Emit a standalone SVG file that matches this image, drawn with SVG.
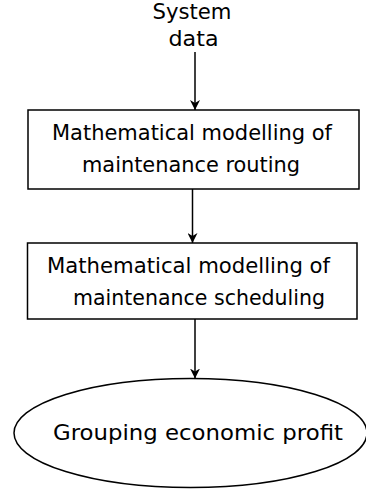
<svg xmlns="http://www.w3.org/2000/svg" width="366" height="492" viewBox="0 0 366 492">
<defs>
<marker id="ah" viewBox="0 0 10 10" refX="10" refY="5" markerWidth="10" markerHeight="10" markerUnits="userSpaceOnUse" orient="auto">
<path d="M0,0 L10,5 L0,10 L3,5 Z" fill="#000"/>
</marker>
</defs>
<style>
.t{font-family:"DejaVu Sans",Verdana,sans-serif;font-size:22px;fill:#000;text-anchor:middle}
.s{fill:#fff;stroke:#000;stroke-width:1.5}
.c{stroke:#000;stroke-width:1.5;fill:none;marker-end:url(#ah)}
</style>
<rect width="366" height="492" fill="#fff"/>
<g id="input">
<text class="t" x="192" y="19" textLength="79" lengthAdjust="spacingAndGlyphs">System</text>
<text class="t" x="193.5" y="46" textLength="50" lengthAdjust="spacingAndGlyphs">data</text>
</g>
<g id="routing">
<rect class="s" x="28" y="110" width="331" height="79"/>
<text class="t" x="192" y="139.5" textLength="280" lengthAdjust="spacingAndGlyphs">Mathematical modelling of</text>
<text class="t" x="191" y="172" textLength="218" lengthAdjust="spacingAndGlyphs">maintenance routing</text>
</g>
<g id="scheduling">
<rect class="s" x="27.5" y="243" width="329.5" height="76"/>
<text class="t" x="188.5" y="272.5" textLength="283" lengthAdjust="spacingAndGlyphs">Mathematical modelling of</text>
<text class="t" x="199" y="305" textLength="252" lengthAdjust="spacingAndGlyphs">maintenance scheduling</text>
</g>
<g id="profit">
<ellipse class="s" cx="190.5" cy="433" rx="176.5" ry="54.5"/>
<text class="t" x="198" y="440" textLength="290" lengthAdjust="spacingAndGlyphs">Grouping economic profit</text>
</g>
<g id="connectors">
<line class="c" x1="195" y1="52" x2="195" y2="110"/>
<line class="c" x1="192.5" y1="189" x2="192.5" y2="243"/>
<line class="c" x1="195" y1="319" x2="195" y2="378.5"/>
</g>
</svg>
